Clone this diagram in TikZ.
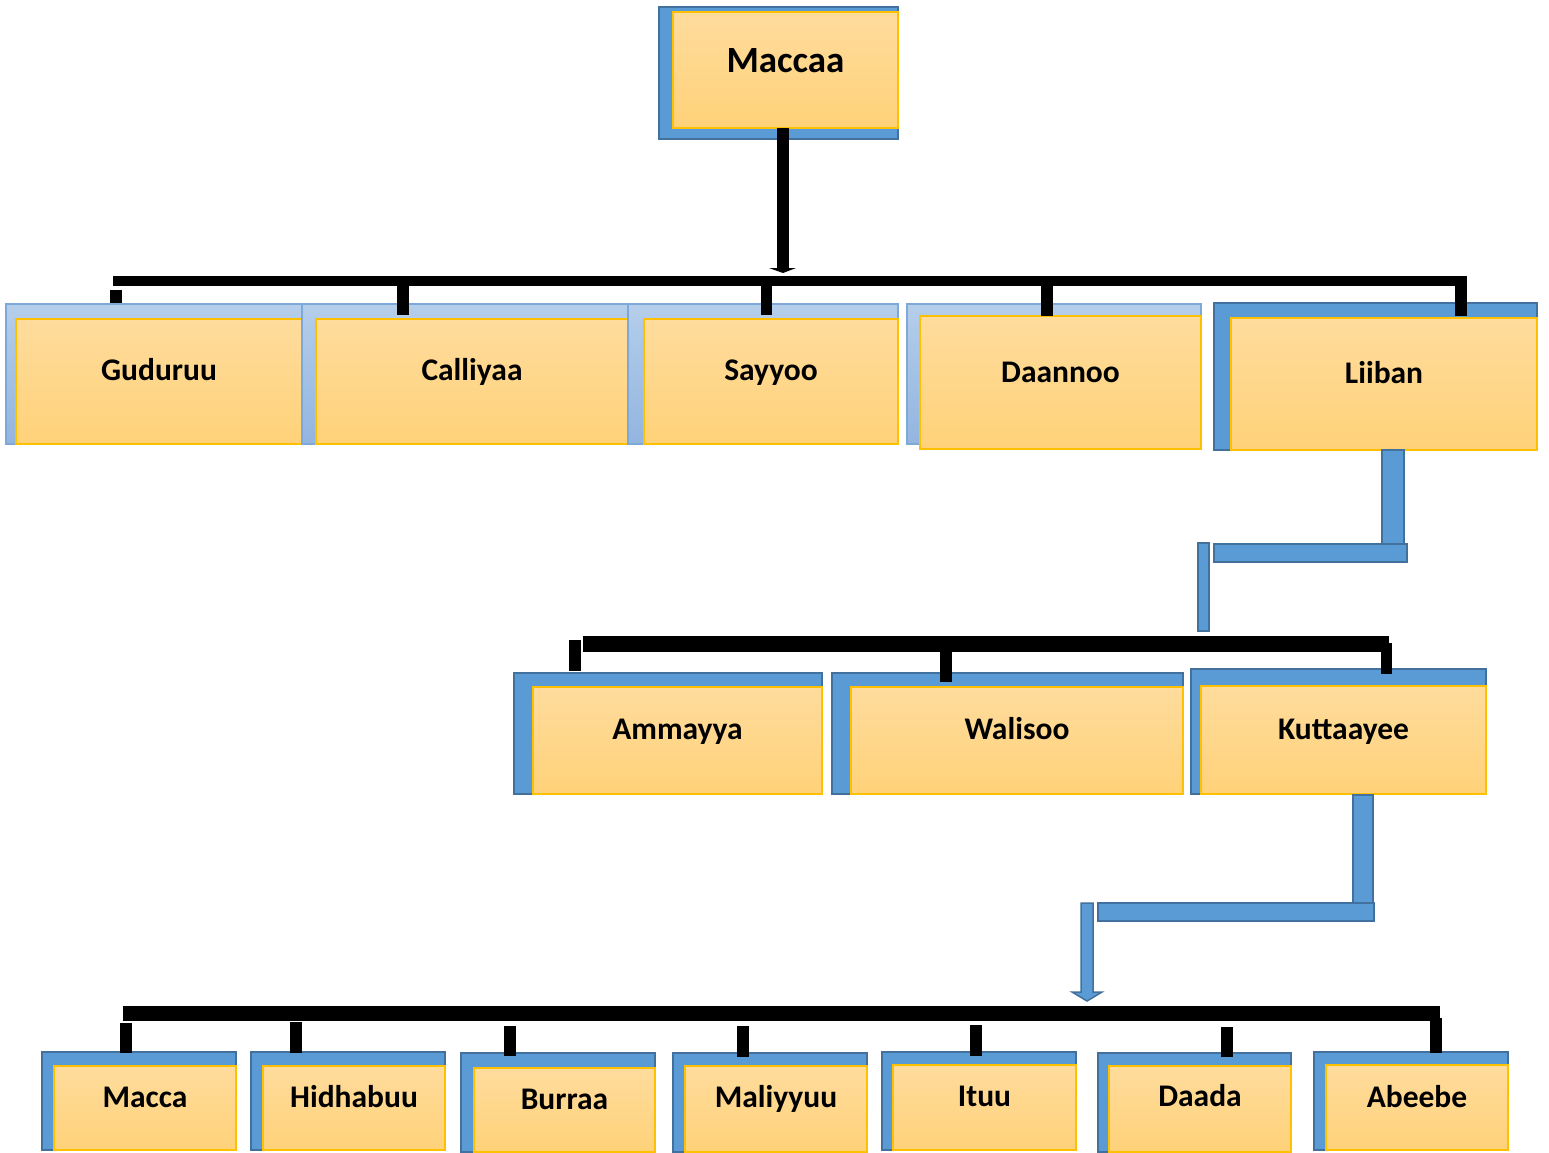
\documentclass[tikz,border=0pt]{standalone}
\usepackage{fontspec}
\setmainfont{Carlito}
\definecolor{bluef}{HTML}{5B9BD5}
\definecolor{blueb}{HTML}{41719C}
\definecolor{lbtop}{HTML}{B5CEEA}
\definecolor{lbbot}{HTML}{92B5E0}
\definecolor{lbb}{HTML}{7EA8D8}
\definecolor{otop}{HTML}{FFDC9D}
\definecolor{obot}{HTML}{FFD279}
\definecolor{ob}{HTML}{FFC000}
\tikzset{
  dblue/.style={fill=bluef, draw=blueb, line width=1.5pt},
  lblue/.style={top color=lbtop, bottom color=lbbot, draw=lbb, line width=1.2pt},
  orng/.style={top color=otop, bottom color=obot, draw=ob, line width=1.2pt, inner sep=0pt, outer sep=0pt},
  lbl/.style={font=\fontsize{31.5}{36}\selectfont\bfseries, anchor=base, inner sep=0pt},
  toplbl/.style={font=\fontsize{37}{42}\selectfont\bfseries, anchor=base, inner sep=0pt},
  blk/.style={fill=black},
  conn/.style={fill=bluef, draw=blueb, line width=1.5pt},
}
% name, blue style, blue box (x1,y1,x2,y2), orange top-left (x,y), text baseline
\newcommand\fambox[9]{%
  \path[#2] (#3,#4) rectangle (#5,#6);
  \node[orng, anchor=north west, minimum width={#5pt-#7pt}, minimum height={#6pt-#8pt}] (#1) at (#7,#8) {};
  \node[lbl] (#1-t) at (#1.center |- 0,#9) {#1};
}
\begin{document}
\begin{tikzpicture}[x=1pt,y=-1pt]
\useasboundingbox[fill=white] (0,0) rectangle (1549,1152);

% ---- top
\path[dblue] (659,7) rectangle (898,139);
\node[orng, anchor=north west, minimum width=225pt, minimum height=116pt] (Maccaa) at (673,12) {};
\node[toplbl] (Maccaa-t) at (Maccaa.center |- 0,72) {Maccaa};

% ---- level 1
\fambox{Guduruu}{lblue}{6}{304}{302}{444}{16}{319}{380}
\fambox{Calliyaa}{lblue}{302}{304}{628}{444}{316}{319}{380}
\fambox{Sayyoo}{lblue}{628}{304}{898}{444}{644}{319}{380}
\path[lblue] (907,304) rectangle (1201,444);
\node[orng, anchor=north west, minimum width=281pt, minimum height=133pt] (Daannoo) at (920,316) {};
\node[lbl] (Daannoo-t) at (Daannoo.center |- 0,382) {Daannoo};
\fambox{Liiban}{dblue}{1214}{303}{1537}{450}{1231}{318}{383}

% ---- level 2
\fambox{Ammayya}{dblue}{514}{673}{822}{794}{533}{687}{739}
\fambox{Walisoo}{dblue}{832}{673}{1183}{794}{851}{687}{739}
\fambox{Kuttaayee}{dblue}{1191}{669}{1486}{794}{1201}{686}{739}

% ---- level 3
\fambox{Macca}{dblue}{42}{1052}{236}{1150}{54}{1066}{1107}
\fambox{Hidhabuu}{dblue}{251}{1052}{445}{1150}{263}{1066}{1107}
\fambox{Burraa}{dblue}{461}{1053}{655}{1152}{474}{1068}{1109}
\fambox{Maliyyuu}{dblue}{673}{1053}{867}{1152}{685}{1066}{1107}
\fambox{Ituu}{dblue}{882}{1052}{1076}{1150}{893}{1065}{1106}
\fambox{Daada}{dblue}{1098}{1053}{1291}{1152}{1109}{1066}{1106}
\fambox{Abeebe}{dblue}{1314}{1052}{1508}{1150}{1326}{1065}{1107}

% ---- black connectors, level 1
\coordinate (m1) at (Maccaa.south -| 783,0);
\fill[blk] (777,128) rectangle (789,268);
\fill[blk] (769,268) -- (796,268) -- (783,273) -- cycle;
\fill[blk] (113,276) rectangle (1467,286);
\fill[blk] (110,290) rectangle (122,303);
\fill[blk] (397,286) rectangle (409,315);
\fill[blk] (761,286) rectangle (772,315);
\fill[blk] (1041,286) rectangle (1053,316);
\fill[blk] (1455,286) rectangle (1467,316);

% ---- Liiban elbow connector
\path[conn] (1382,450) rectangle (1404,545);
\path[conn] (1214,544) rectangle (1407,562);
\path[conn] (1198,543) rectangle (1209,631);

% ---- black connectors, level 2
\fill[blk] (583,636) rectangle (1389,652);
\fill[blk] (1381,643) rectangle (1392,674);
\fill[blk] (569,640) rectangle (581,671);
\fill[blk] (940,652) rectangle (952,682);

% ---- Kuttaayee elbow arrow
\path[conn] (1353,795) rectangle (1373,904);
\path[conn] (1098,903) rectangle (1374,921);
\path[conn] (1081,903) -- (1093,903) -- (1093,992) -- (1102,992) -- (1087,1001) -- (1072,992) -- (1081,992) -- cycle;

% ---- black connectors, level 3
\fill[blk] (123,1006) rectangle (1440,1021);
\fill[blk] (1430,1018) rectangle (1442,1053);
\fill[blk] (120,1023) rectangle (132,1053);
\fill[blk] (290,1022) rectangle (302,1053);
\fill[blk] (504,1026) rectangle (516,1056);
\fill[blk] (737,1026) rectangle (749,1057);
\fill[blk] (970,1025) rectangle (982,1056);
\fill[blk] (1221,1027) rectangle (1233,1057);
\end{tikzpicture}
\end{document}
